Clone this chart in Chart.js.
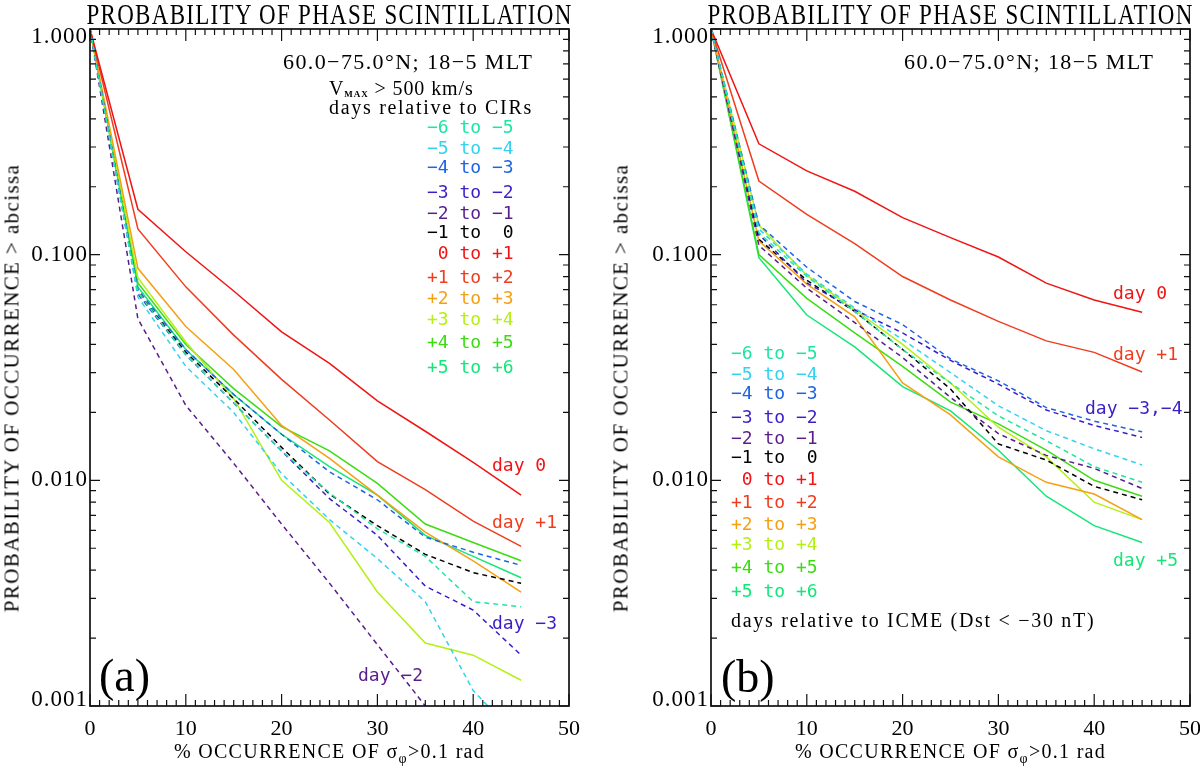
<!DOCTYPE html>
<html><head><meta charset="utf-8">
<script src="https://cdn.jsdelivr.net/npm/chart.js@4.4.1/dist/chart.umd.min.js"></script>
<style>
html,body{margin:0;padding:0;background:#fff;}
#wrap{position:relative;width:1200px;height:769px;overflow:hidden;background:#fff;}
canvas{position:absolute;top:0;}
.t{position:absolute;white-space:pre;line-height:1;z-index:2;transform:translateY(-50%);}
.ser{font-family:'Liberation Serif',serif;}
.mono{font-family:'DejaVu Sans Mono',monospace;}
</style></head><body>
<div id="wrap">
<canvas id="ca" width="600" height="769" style="left:0"></canvas>
<canvas id="cb" width="600" height="769" style="left:600px"></canvas>
</div>
<script>
// ---------- data ----------
const xValues = [0, 5, 10, 15, 20, 25, 30, 35, 40, 45];
const xTickValues = [0, 10, 20, 30, 40, 50];
const yTickValues = [0.001, 0.01, 0.1, 1];
const seriesNames = ['-6 to -5', '-5 to -4', '-4 to -3', '-3 to -2', '-2 to -1', '-1 to  0',
                     ' 0 to +1', '+1 to +2', '+2 to +3', '+3 to +4', '+4 to +5', '+5 to +6'];
const seriesColors = ['#1ee6a0', '#32d2f0', '#1e64e6', '#3c1ec8', '#5a1e8c', '#000000',
                      '#f01414', '#f03c1e', '#f5a014', '#b4f014', '#3cdc14', '#14e678'];
const seriesDashed = [true, true, true, true, true, true, false, false, false, false, false, false];

// panel (a): CIRs, Vmax > 500 km/s
const a_m6_m5 = [1, 0.068, 0.036, 0.022, 0.0135, 0.0088, 0.0061, 0.0046, 0.0029, 0.00275];
const a_m5_m4 = [1, 0.065, 0.032, 0.020, 0.0107, 0.0067, 0.0045, 0.0029, 0.00117, 0.0007];
const a_m4_m3 = [1, 0.070, 0.038, 0.024, 0.016, 0.0109, 0.0082, 0.0056, 0.0048, 0.0042];
const a_m3_m2 = [1, 0.067, 0.036, 0.022, 0.0135, 0.0083, 0.0057, 0.0034, 0.00266, 0.00168];
const a_m2_m1 = [1, 0.052, 0.0215, 0.0119, 0.0064, 0.0035, 0.00187, 0.0010, 0.0006, 0.0004];
const a_m1_0  = [1, 0.068, 0.037, 0.023, 0.014, 0.0087, 0.0063, 0.0047, 0.0039, 0.0035];
const a_0_p1  = [1, 0.159, 0.103, 0.069, 0.0455, 0.033, 0.0225, 0.0165, 0.0120, 0.0086];
const a_p1_p2 = [1, 0.130, 0.072, 0.044, 0.028, 0.0185, 0.0121, 0.0091, 0.0066, 0.0051];
const a_p2_p3 = [1, 0.087, 0.048, 0.031, 0.0175, 0.0125, 0.0086, 0.0059, 0.0044, 0.0032];
const a_p3_p4 = [1, 0.079, 0.041, 0.023, 0.0100, 0.0065, 0.0032, 0.0019, 0.00168, 0.0013];
const a_p4_p5 = [1, 0.075, 0.040, 0.0255, 0.0173, 0.0135, 0.0097, 0.0064, 0.0053, 0.0044];
const a_p5_p6 = [1, 0.072, 0.038, 0.024, 0.016, 0.0115, 0.0086, 0.0057, 0.0046, 0.0037];

// panel (b): ICME (Dst < -30 nT)
const b_m6_m5 = [1, 0.125, 0.080, 0.056, 0.038, 0.027, 0.0193, 0.0150, 0.0115, 0.0098];
const b_m5_m4 = [1, 0.130, 0.082, 0.058, 0.042, 0.030, 0.0214, 0.0166, 0.0138, 0.0117];
const b_m4_m3 = [1, 0.136, 0.088, 0.062, 0.049, 0.0345, 0.0276, 0.0210, 0.0183, 0.0164];
const b_m3_m2 = [1, 0.123, 0.075, 0.057, 0.045, 0.034, 0.0267, 0.0205, 0.0175, 0.0155];
const b_m2_m1 = [1, 0.110, 0.071, 0.050, 0.035, 0.0233, 0.0161, 0.0129, 0.0113, 0.0092];
const b_m1_0  = [1, 0.117, 0.077, 0.056, 0.038, 0.0254, 0.0145, 0.0123, 0.0094, 0.0082];
const b_0_p1  = [1, 0.310, 0.235, 0.191, 0.146, 0.119, 0.0976, 0.0748, 0.063, 0.0556];
const b_p1_p2 = [1, 0.212, 0.151, 0.112, 0.080, 0.063, 0.0506, 0.0415, 0.0369, 0.0302];
const b_p2_p3 = [1, 0.115, 0.074, 0.053, 0.027, 0.0195, 0.0127, 0.0098, 0.0087, 0.0067];
const b_p3_p4 = [1, 0.135, 0.081, 0.057, 0.040, 0.027, 0.0172, 0.0127, 0.0080, 0.0067];
const b_p4_p5 = [1, 0.100, 0.064, 0.045, 0.032, 0.0222, 0.0178, 0.0136, 0.0100, 0.0085];
const b_p5_p6 = [1, 0.097, 0.054, 0.039, 0.026, 0.0203, 0.0136, 0.0085, 0.0063, 0.0053];

const panelA = [a_m6_m5, a_m5_m4, a_m4_m3, a_m3_m2, a_m2_m1, a_m1_0, a_0_p1, a_p1_p2, a_p2_p3, a_p3_p4, a_p4_p5, a_p5_p6];
const panelB = [b_m6_m5, b_m5_m4, b_m4_m3, b_m3_m2, b_m2_m1, b_m1_0, b_0_p1, b_p1_p2, b_p2_p3, b_p3_p4, b_p4_p5, b_p5_p6];

// ---------- chart ----------
const framePlugin = {
  id: 'frame',
  afterDraw(chart) {
    const {ctx, chartArea: {left, right, top, bottom}, scales: {x, y}} = chart;
    ctx.save();
    ctx.strokeStyle = '#111';
    ctx.lineWidth = 1.7;
    ctx.strokeRect(left, top, right - left, bottom - top);
    ctx.lineWidth = 1.2;
    ctx.beginPath();
    for (let v = x.min; v <= x.max; v += 1) {
      const px = x.getPixelForValue(v);
      const len = (v % 10 === 0) ? 12 : 6;
      ctx.moveTo(px, bottom); ctx.lineTo(px, bottom - len);
      ctx.moveTo(px, top); ctx.lineTo(px, top + len);
    }
    for (let d = 0; d < yTickValues.length; d++) {
      const base = yTickValues[d];
      for (let k = 1; k <= 9; k++) {
        const v = base * k;
        if (v > y.max * 1.0001) break;
        const py = y.getPixelForValue(v);
        const len = (k === 1) ? 10 : 6;
        ctx.moveTo(left, py); ctx.lineTo(left + len, py);
        ctx.moveTo(right, py); ctx.lineTo(right - len, py);
      }
    }
    ctx.stroke();
    // y tick labels, from the log scale; end labels nudged inside like the original
    ctx.fillStyle = '#000';
    ctx.font = '23px "Liberation Serif"';
    if ('letterSpacing' in ctx) ctx.letterSpacing = '1px';
    ctx.textAlign = 'right';
    ctx.textBaseline = 'middle';
    yTickValues.forEach(v => {
      const py = y.getPixelForValue(v);
      const off = v >= y.max ? 8 : (v <= y.min ? -6 : 0);
      ctx.fillText(v.toFixed(3), left - 2, py + off);
    });
    ctx.restore();
  }
};

function makeChart(id, seriesSet, yWidth, rightPad) {
  const datasets = seriesSet.map((vals, i) => ({
    label: seriesNames[i],
    data: xValues.map((xv, j) => ({x: xv, y: vals[j]})),
    borderColor: seriesColors[i],
    backgroundColor: seriesColors[i],
    borderWidth: 1.5,
    borderDash: seriesDashed[i] ? [5, 4] : [],
    pointRadius: 0,
    tension: 0,
    fill: false
  }));
  return new Chart(document.getElementById(id), {
    type: 'line',
    data: {datasets},
    plugins: [framePlugin],
    options: {
      responsive: false,
      animation: false,
      devicePixelRatio: 1,
      layout: {padding: {top: 29, right: rightPad, left: 0, bottom: 0}},
      plugins: {legend: {display: false}, tooltip: {enabled: false}, title: {display: false}},
      scales: {
        x: {
          type: 'linear', min: 0, max: 50,
          afterBuildTicks(s) { s.ticks = xTickValues.map(v => ({value: v})); },
          afterFit(s) { s.height = 63; s.paddingLeft = 0; s.paddingRight = 0; },
          ticks: {color: '#000', font: {family: 'Liberation Serif', size: 22}, padding: 2, maxRotation: 0, autoSkip: false},
          grid: {display: false},
          border: {display: false}
        },
        y: {
          type: 'logarithmic', min: 0.001, max: 1,
          afterBuildTicks(s) { s.ticks = yTickValues.map(v => ({value: v})); },
          afterFit(s) { s.width = yWidth; s.paddingTop = 0; s.paddingBottom = 0; },
          ticks: {display: false},
          grid: {display: false},
          border: {display: false}
        }
      }
    }
  });
}
makeChart('ca', panelA, 90, 31);
makeChart('cb', panelB, 111, 10);

// ---------- text ----------
const wrap = document.getElementById('wrap');
function txt(html, x, y, cls, style) {
  const d = document.createElement('div');
  d.className = 't ' + cls;
  d.innerHTML = html;
  d.style.left = x + 'px';
  d.style.top = y + 'px';
  if (style) Object.assign(d.style, style);
  wrap.appendChild(d);
  return d;
}
function centered(html, cx, cy, cls, style, extra) {
  const d = txt(html, cx, cy, cls, style);
  d.style.transform = 'translate(-50%,-50%)' + (extra || '');
  return d;
}
const titleText = 'PROBABILITY OF PHASE SCINTILLATION';
const regionText = '60.0\u221275.0\u00b0N; 18\u22125 MLT';
const xTitle = '% OCCURRENCE OF \u03c3<sub style="font-size:14px;vertical-align:-5px">\u03c6</sub>&gt;0.1 rad';
const yTitle = 'PROBABILITY OF OCCURRENCE &gt; abcissa';
const legendY_a = [127, 148, 167, 192, 213, 232, 253, 277, 298, 319, 342, 367];
const legendY_b = [353, 374, 393, 417, 438, 457, 479, 502, 524, 544, 567, 591];

[329.5, 950.5].forEach(cx => {
  centered(titleText, cx, 14, 'ser', {fontSize: '23px', letterSpacing: '1.3px'}, ' scaleY(1.3)');
  centered(xTitle, cx, 753, 'ser', {fontSize: '20px', letterSpacing: '1.3px'});
});
[12, 621].forEach(cx => {
  centered(yTitle, cx, 388, 'ser', {fontSize: '21px', letterSpacing: '1.4px'}, ' rotate(-90deg)');
});
txt(regionText, 283, 62, 'ser', {fontSize: '22px', letterSpacing: '1.4px'});
txt(regionText, 904, 62, 'ser', {fontSize: '22px', letterSpacing: '1.4px'});
txt('V<sub style="font-size:9px;font-weight:bold;vertical-align:-2px">MAX</sub> &gt; 500 km/s', 329, 88, 'ser', {fontSize: '20px', letterSpacing: '0.9px'});
txt('days relative to CIRs', 329, 107, 'ser', {fontSize: '20px', letterSpacing: '1.7px'});
txt('days relative to ICME (Dst &lt; \u221230 nT)', 731, 620, 'ser', {fontSize: '20px', letterSpacing: '1.7px'});
seriesNames.forEach((n, i) => {
  const s = n.replace(/-/g, '\u2212');
  txt(s, 427, legendY_a[i], 'mono', {fontSize: '18px', color: seriesColors[i]});
  txt(s, 731, legendY_b[i], 'mono', {fontSize: '18px', color: seriesColors[i]});
});
txt('day 0', 492, 465, 'mono', {fontSize: '18px', color: seriesColors[6]});
txt('day +1', 492, 522, 'mono', {fontSize: '18px', color: seriesColors[7]});
txt('day \u22123', 492, 623, 'mono', {fontSize: '18px', color: seriesColors[3]});
txt('day \u22122', 358, 675, 'mono', {fontSize: '18px', color: seriesColors[4]});
txt('day 0', 1113, 293, 'mono', {fontSize: '18px', color: seriesColors[6]});
txt('day +1', 1113, 354, 'mono', {fontSize: '18px', color: seriesColors[7]});
txt('day \u22123,\u22124', 1085, 408, 'mono', {fontSize: '18px', color: seriesColors[3]});
txt('day +5', 1113, 560, 'mono', {fontSize: '18px', color: seriesColors[11]});
txt('(a)', 99, 676, 'ser', {fontSize: '46px'});
txt('(b)', 721, 677, 'ser', {fontSize: '46px'});
</script>
</body></html>
